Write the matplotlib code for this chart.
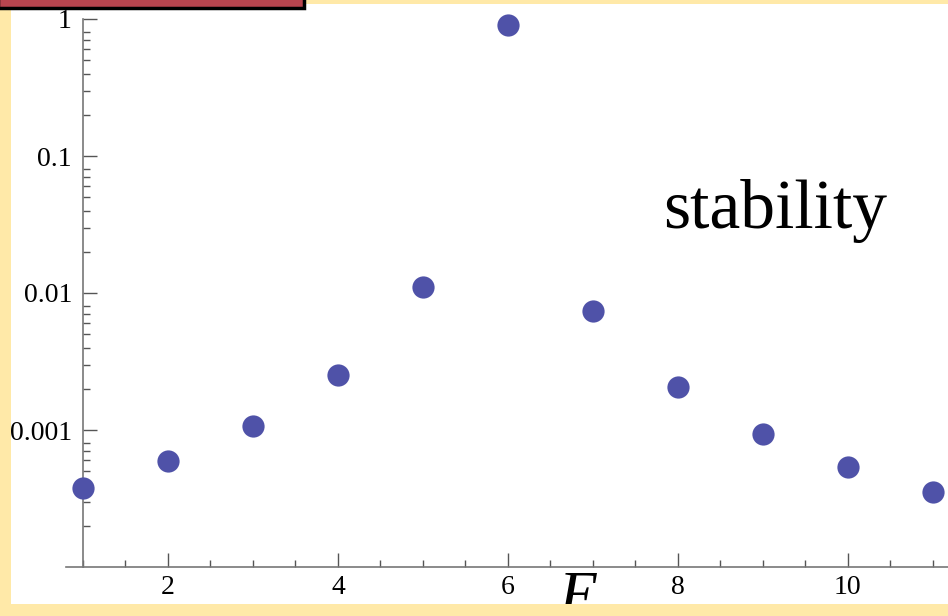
import numpy as np
import matplotlib.pyplot as plt
from matplotlib.patches import Rectangle
from matplotlib.ticker import FixedLocator, FixedFormatter, MultipleLocator

# data
E = [1, 2, 3, 4, 5, 6, 7, 8, 9, 10, 11]
stability = [3.8e-4, 5.9e-4, 1.07e-3, 2.5e-3, 0.0110, 0.90, 0.0074,
             2.06e-3, 9.3e-4, 5.4e-4, 3.5e-4]
ytick_vals = [1e-3, 1e-2, 1e-1, 1]
ytick_labels = ["0.001", "0.01", "0.1", "1"]
xtick_vals = [2, 4, 6, 8, 10]

W, H = 948, 616
fig = plt.figure(figsize=(W / 100, H / 100), dpi=100)
fig.patch.set_facecolor('#FFE9A8')

# white slide area
fig.add_artist(Rectangle((11 / W, 1 - 604 / H), (W - 11) / W, 600 / H,
                         transform=fig.transFigure, facecolor='white',
                         edgecolor='none', zorder=0))

ax = fig.add_axes([66 / W, 1 - 567 / H, (W - 66) / W, (567 - 19) / H])
ax.set_facecolor('none')
ax.set_yscale('log')
ax.set_xlim(0.8, 11.18)
ax.set_ylim(1e-4, 1)

ax.plot(E, stability, 'o', color='#4F52A8', markersize=16,
        markeredgewidth=0, clip_on=False, zorder=3)

for s in ['top', 'right']:
    ax.spines[s].set_visible(False)
ax.spines['left'].set_position(('data', 1))
for s in ['left', 'bottom']:
    ax.spines[s].set_color('#777777')
    ax.spines[s].set_linewidth(1.2)

ax.yaxis.set_major_locator(FixedLocator(ytick_vals))
ax.yaxis.set_major_formatter(FixedFormatter(ytick_labels))
minor = [m * 10.0 ** d for d in range(-4, 0) for m in range(2, 9)]
ax.yaxis.set_minor_locator(FixedLocator(minor))
ax.xaxis.set_major_locator(FixedLocator(xtick_vals))
ax.xaxis.set_minor_locator(MultipleLocator(0.5))

ax.tick_params(which='both', direction='in', color='#555555', width=1,
               labelsize=20, labelcolor='black')
ax.tick_params(which='major', length=10)
ax.tick_params(axis='y', which='major', pad=8)
ax.tick_params(axis='x', which='major', pad=6)
ax.tick_params(which='minor', length=5)
for lab in ax.get_xticklabels() + ax.get_yticklabels():
    lab.set_fontfamily('Liberation Serif')

fig.text(663 / W, 1 - 228 / H, "stability", fontsize=50,
         family='Liberation Serif', ha='left', va='baseline')
fig.text(578 / W, 1 - 615 / H, "E", fontsize=46, family='Liberation Serif',
         style='italic', ha='center', va='baseline', zorder=1)

# bottom yellow strip covers the axis label partly
fig.add_artist(Rectangle((0, 0), 1, 12 / H, transform=fig.transFigure,
                         facecolor='#FFE9A8', edgecolor='none', zorder=5))
# red title box at top left
fig.add_artist(Rectangle((-2 / W, 1 - 8 / H), 306 / W, 12 / H,
                         transform=fig.transFigure, facecolor='#B8454F',
                         edgecolor='black', linewidth=2.5, zorder=6,
                         clip_on=False))

fig.savefig('out.png', dpi=100)
